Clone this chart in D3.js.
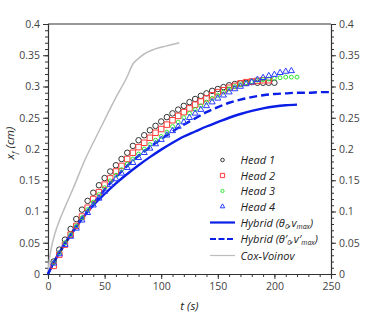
<!DOCTYPE html>
<html><head><meta charset="utf-8">
<script src="https://cdn.jsdelivr.net/npm/d3@7"></script>
<style>
html,body{margin:0;padding:0;background:#fff;}
text{font-family:"Open Sans",sans-serif;}
</style></head>
<body>
<svg id="chart" width="374" height="321"></svg>
<script>
// ---- data ----
const head1T = d3.range(5, 201, 5);
const head1V = [0.020,0.039,0.055,0.072,0.088,0.103,0.117,0.130,0.142,0.1535,0.164,0.174,0.184,0.194,0.205,0.214,0.222,0.230,0.237,0.244,0.251,0.257,0.263,0.269,0.275,0.280,0.285,0.289,0.293,0.296,0.299,0.302,0.304,0.305,0.306,0.307,0.306,0.306,0.306,0.306];
const head2T = d3.range(5, 196, 5);
const head2V = [0.013,0.031,0.047,0.063,0.077,0.092,0.106,0.120,0.131,0.143,0.153,0.164,0.173,0.184,0.194,0.203,0.210,0.218,0.226,0.232,0.239,0.246,0.253,0.259,0.265,0.271,0.276,0.281,0.286,0.291,0.294,0.298,0.301,0.305,0.307,0.308,0.309,0.310,0.310];
const head3T = d3.range(5, 221, 5);
const head3V = [0.018,0.034,0.050,0.063,0.077,0.090,0.103,0.115,0.127,0.138,0.149,0.158,0.167,0.176,0.184,0.192,0.200,0.207,0.214,0.220,0.227,0.236,0.243,0.250,0.257,0.263,0.269,0.275,0.281,0.286,0.291,0.296,0.300,0.303,0.306,0.308,0.310,0.311,0.312,0.313,0.314,0.315,0.315,0.315];
const head4T = d3.range(5, 216, 5);
const head4V = [0.017,0.032,0.047,0.060,0.073,0.086,0.098,0.110,0.121,0.132,0.143,0.152,0.161,0.170,0.178,0.186,0.194,0.201,0.208,0.215,0.222,0.229,0.236,0.243,0.250,0.257,0.263,0.269,0.275,0.281,0.286,0.291,0.296,0.300,0.304,0.307,0.311,0.314,0.317,0.319,0.322,0.324,0.325];
const hybridT = [0,5,10,20,30,40,50,60,70,80,90,100,110,120,130,140,150,160,170,180,190,200,210,220];
const hybridV = [0,0.018,0.034,0.062,0.088,0.110,0.128,0.145,0.160,0.174,0.187,0.199,0.210,0.220,0.228,0.236,0.243,0.250,0.256,0.261,0.265,0.268,0.270,0.271];
const hybrid2T = [0,5,10,20,30,40,50,60,70,80,90,100,110,120,130,140,150,160,170,180,190,200,210,220,230,240,250];
const hybrid2V = [0,0.018,0.034,0.063,0.090,0.113,0.135,0.155,0.173,0.189,0.203,0.216,0.228,0.239,0.249,0.259,0.267,0.274,0.279,0.283,0.286,0.288,0.289,0.290,0.290,0.291,0.291];
const coxT = [0,1,3,6,10,15,22,32,46,59,70,75,80,85,93,105,116];
const coxV = [0,0.020,0.042,0.064,0.085,0.107,0.136,0.180,0.232,0.279,0.316,0.336,0.345,0.352,0.359,0.365,0.370];
const xTicks = [0,50,100,150,200,250];
const yTicks = [0,0.05,0.1,0.15,0.2,0.25,0.3,0.35,0.4];
const yTickLabels = ["0","0.05","0.1","0.15","0.2","0.25","0.3","0.35","0.4"];

// ---- layout ----
const svg = d3.select("#chart");
const L = 48, R = 331, T = 24, B = 274;
const x = d3.scaleLinear().domain([0,250]).range([L,R]);
const y = d3.scaleLinear().domain([0,0.4]).range([B,T]);

const axisColor = "#333";
const labelColor = "#444";
const fs = "10.5px";

// top border
svg.append("line").attr("x1",L).attr("x2",R).attr("y1",T).attr("y2",T)
  .attr("stroke","#999").attr("stroke-width",2);

function styleAxis(g){
  g.selectAll("path.domain").attr("stroke",axisColor).attr("stroke-width",1.2);
  g.selectAll(".tick line").attr("stroke",axisColor);
  g.selectAll(".tick text").attr("fill",labelColor).style("font-size",fs).style("font-family","'Open Sans',sans-serif");
}
const yMinor = d3.range(0,0.4001,0.01);
const xMinor = d3.range(0,250.1,10);

// left axis
const gl = svg.append("g").attr("transform",`translate(${L},0)`);
gl.call(d3.axisLeft(y).tickValues(yMinor).tickSize(3).tickFormat("")).call(styleAxis);
gl.append("g").call(d3.axisLeft(y).tickValues(yTicks).tickSize(5).tickPadding(3)
  .tickFormat((d,i)=>yTickLabels[i])).call(styleAxis).select("path.domain").remove();
// right axis
const gr = svg.append("g").attr("transform",`translate(${R},0)`);
gr.call(d3.axisRight(y).tickValues(yMinor).tickSize(3).tickFormat("")).call(styleAxis);
gr.append("g").call(d3.axisRight(y).tickValues(yTicks).tickSize(5).tickPadding(3)
  .tickFormat((d,i)=>yTickLabels[i])).call(styleAxis).select("path.domain").remove();
// bottom axis
const gb = svg.append("g").attr("transform",`translate(0,${B})`);
gb.call(d3.axisBottom(x).tickValues(xMinor).tickSize(3).tickFormat("")).call(styleAxis);
gb.append("g").call(d3.axisBottom(x).tickValues(xTicks).tickSize(5).tickPadding(4)
  .tickFormat(d3.format("d"))).call(styleAxis).select("path.domain").remove();

// axis titles
const xt = svg.append("text").attr("x",(L+R)/2).attr("y",310).attr("text-anchor","middle")
  .style("font-style","italic").style("font-size","11.5px").attr("fill","#222");
xt.text("t (s)");
const yt = svg.append("text").attr("transform",`translate(14,${(T+B)/2-6}) rotate(-90)`)
  .attr("text-anchor","middle").style("font-style","italic").style("font-size","11.5px").attr("fill","#222");
yt.append("tspan").text("x");
yt.append("tspan").attr("dy",3).style("font-size","8px").text("f");
yt.append("tspan").attr("dy",-3).text(" (cm)");

// lines
const line = d3.line().x(d=>x(d[0])).y(d=>y(d[1])).curve(d3.curveMonotoneX);
const zip = (a,b)=>a.map((v,i)=>[v,b[i]]);
const plot = svg.append("g");
plot.append("path").datum(zip(coxT,coxV)).attr("d",line).attr("fill","none")
  .attr("stroke","#bdbdbd").attr("stroke-width",1.5);
plot.append("path").datum(zip(hybridT,hybridV)).attr("d",line).attr("fill","none")
  .attr("stroke","#0a1ee6").attr("stroke-width",2.4);
plot.append("path").datum(zip(hybrid2T,hybrid2V)).attr("d",line).attr("fill","none")
  .attr("stroke","#0a1ee6").attr("stroke-width",2.4).attr("stroke-dasharray","8,4");

// markers
const sym = {
  circle: d3.symbol().type(d3.symbolCircle),
  square: d3.symbol().type(d3.symbolSquare),
  diamond: d3.symbol().type(d3.symbolCircle),
  triangle: d3.symbol().type(d3.symbolTriangle)
};
const series = [
  {t:head1T,v:head1V,type:"circle",size:24,color:"#333",name:"Head 1",lsize:10},
  {t:head2T,v:head2V,type:"square",size:30,color:"#ff3b3b",name:"Head 2",lsize:18},
  {t:head3T,v:head3V,type:"diamond",size:12,color:"#33e633",name:"Head 3",lsize:8},
  {t:head4T,v:head4V,type:"triangle",size:16,color:"#2a3cff",name:"Head 4",lsize:9}
];
series.forEach(s=>{
  plot.append("g").selectAll("path").data(zip(s.t,s.v)).join("path")
    .attr("d",sym[s.type].size(s.size)())
    .attr("transform",d=>`translate(${x(d[0])},${y(d[1])})`)
    .attr("fill","none").attr("stroke",s.color).attr("stroke-width",1);
});

// legend
const leg = svg.append("g");
const lx1 = 210, lx2 = 235, tx = 240.5;
const rowY = [160,175.5,191,206.5,222.5,239,255.5];
series.forEach((s,i)=>{
  leg.append("path").attr("d",sym[s.type].size(s.lsize)())
    .attr("transform",`translate(${(lx1+lx2)/2},${rowY[i]})`)
    .attr("fill","none").attr("stroke",s.color).attr("stroke-width",1);
  leg.append("text").attr("x",tx).attr("y",rowY[i]+4).style("font-style","italic")
    .style("font-size","11px").attr("fill","#222").text(s.name);
});
function legLine(i,dash,color,w){
  const l = leg.append("line").attr("x1",lx1).attr("x2",lx2).attr("y1",rowY[i]).attr("y2",rowY[i])
    .attr("stroke",color).attr("stroke-width",w);
  if(dash) l.attr("stroke-dasharray",dash);
}
legLine(4,null,"#0a1ee6",2.2);
legLine(5,"6,2.5","#0a1ee6",2.2);
legLine(6,null,"#bdbdbd",1.2);
function hybridText(i,prime){
  const t = leg.append("text").attr("x",tx).attr("y",rowY[i]+4).style("font-style","italic")
    .style("font-size","11px").attr("fill","#222");
  t.append("tspan").text("Hybrid (θ"+(prime?"′":""));
  t.append("tspan").attr("dy",2).style("font-size","7px").text("0");
  t.append("tspan").attr("dy",-2).text(",v"+(prime?"′":""));
  t.append("tspan").attr("dy",2).style("font-size","7px").text("max");
  t.append("tspan").attr("dy",-2).text(")");
}
hybridText(4,false);
hybridText(5,true);
leg.append("text").attr("x",tx).attr("y",rowY[6]+4).style("font-style","italic")
  .style("font-size","11px").attr("fill","#222").text("Cox-Voinov");
</script>
</body></html>
